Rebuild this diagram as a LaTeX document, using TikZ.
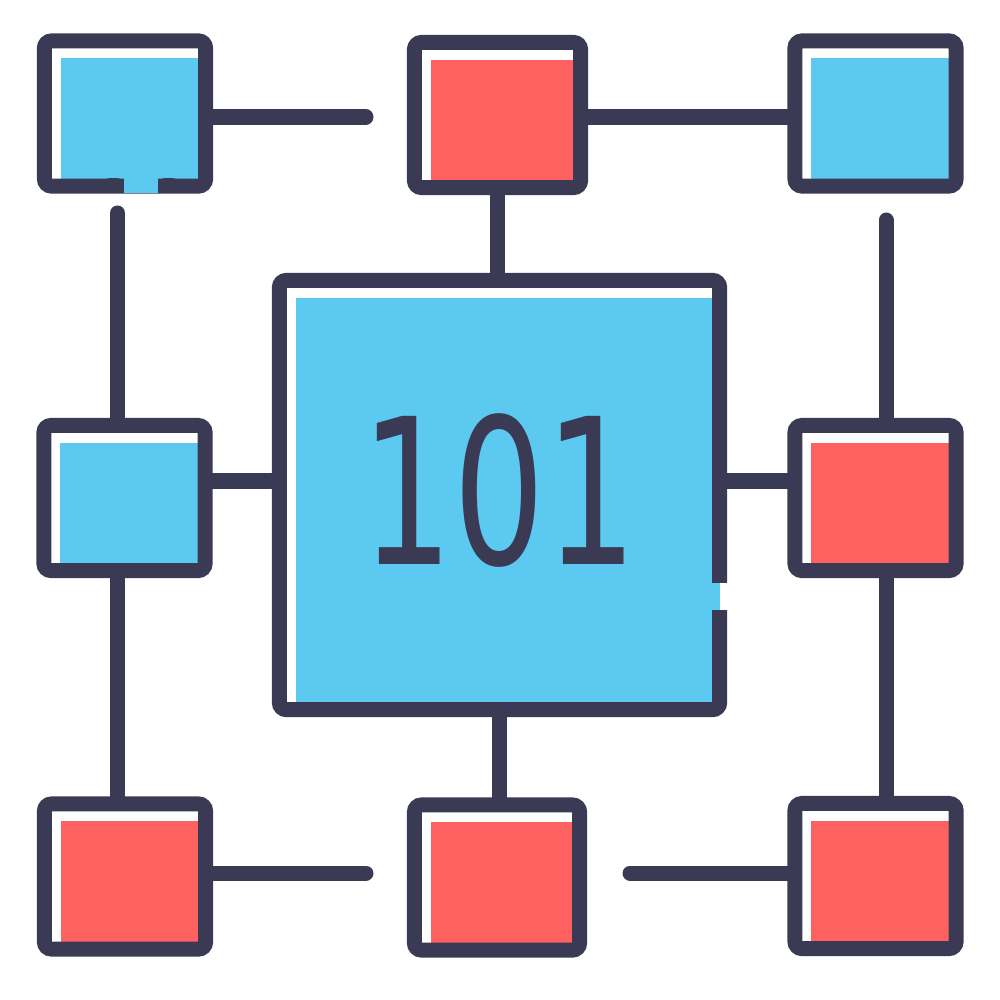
\documentclass[tikz,border=0pt]{standalone}
\usepackage{fontspec}
\usepackage{tikz}
\usetikzlibrary{calc, positioning}
\usepackage{xcolor}
\newfontfamily\digitfont[FakeStretch=0.71]{DejaVu Sans}
\definecolor{inkblue}{RGB}{59,58,84}
\definecolor{cellblue}{RGB}{92,201,240}
\definecolor{cellred}{RGB}{255,97,97}

\begin{document}
\begin{tikzpicture}[x=0.01cm, y=-0.01cm,
  cell/.style={draw=inkblue, line width=0.15cm, fill=white, rounded corners=0.07cm,
    minimum width=1.61cm, minimum height=1.45cm, inner sep=0pt,
    path picture={\fill[#1, sharp corners] ([xshift=0.165cm,yshift=-0.175cm]path picture bounding box.north west)
      rectangle (path picture bounding box.south east);}},
  link/.style={draw=inkblue, line width=0.15cm, line cap=round}]
  \useasboundingbox (0,0) rectangle (1000,1000);

  % outer cells
  \node[cell=cellblue] (tl) at (125,113.5) {};
  \node[cell=cellred, minimum width=1.66cm] (tm) at (497.5,115) {};
  \node[cell=cellblue] (tr) at (875.5,113.5) {};
  \node[cell=cellblue] (ml) at (124.5,498) {};
  \node[cell=cellred] (mr) at (875.5,498) {};
  \node[cell=cellred] (bl) at (125,876.5) {};
  \node[cell=cellred, minimum width=1.65cm] (bm) at (497,877.5) {};
  \node[cell=cellred] (br) at (875.5,876) {};

  % big cell with the number
  \node[cell=cellblue, minimum width=4.4cm, minimum height=4.29cm] (c) at (499.5,495) {};
  \node[text=inkblue, font=\digitfont\fontsize{57.8}{60}\selectfont] (num) at ($(c)+(0,-4)$) {101};

  % top row
  \coordinate (tlend) at (366,117);
  \draw[link] (tl.east |- tlend) -- (tlend);
  \draw[link] (tm.east |- tlend) -- (tr.west |- tlend);
  \draw[link] (tm.south) -- (tm.south |- c.north);

  % side columns
  \coordinate (lvend) at (117.5,213);
  \draw[link] (lvend) -- (lvend |- ml.north);
  \draw[link] (lvend |- ml.south) -- (lvend |- bl.north);
  \coordinate (rvend) at (886,220);
  \draw[link] (rvend) -- (rvend |- mr.north);
  \draw[link] (rvend |- mr.south) -- (rvend |- br.north);

  % middle row
  \draw[link] ([yshift=0.17cm]ml.east) -- ([yshift=0.17cm]ml.east -| c.west);
  \draw[link] ([yshift=0.17cm]mr.west -| c.east) -- ([yshift=0.17cm]mr.west);

  % bottom row
  \coordinate (blend) at (366,873);
  \draw[link] (bl.east |- blend) -- (blend);
  \coordinate (brend) at (630,873);
  \draw[link] (brend) -- (br.west |- brend);
  \draw[link] ([xshift=0.025cm]c.south -| bm.north) -- ([xshift=0.025cm]bm.north);

  % gaps in the outlines
  \fill[cellblue] (124,177) rectangle (158,193);
  \draw[link] (110,185.5) -- (116.5,185.5);
  \draw[link] (165.5,185.5) -- (172,185.5);
  \fill[cellblue] (711,583) rectangle (720,610);
  \fill[white] (720,583) rectangle (728,610);
  \draw[link] (719.5,570) -- (719.5,575.5);
  \draw[link] (719.5,617.5) -- (719.5,625);
\end{tikzpicture}
\end{document}
